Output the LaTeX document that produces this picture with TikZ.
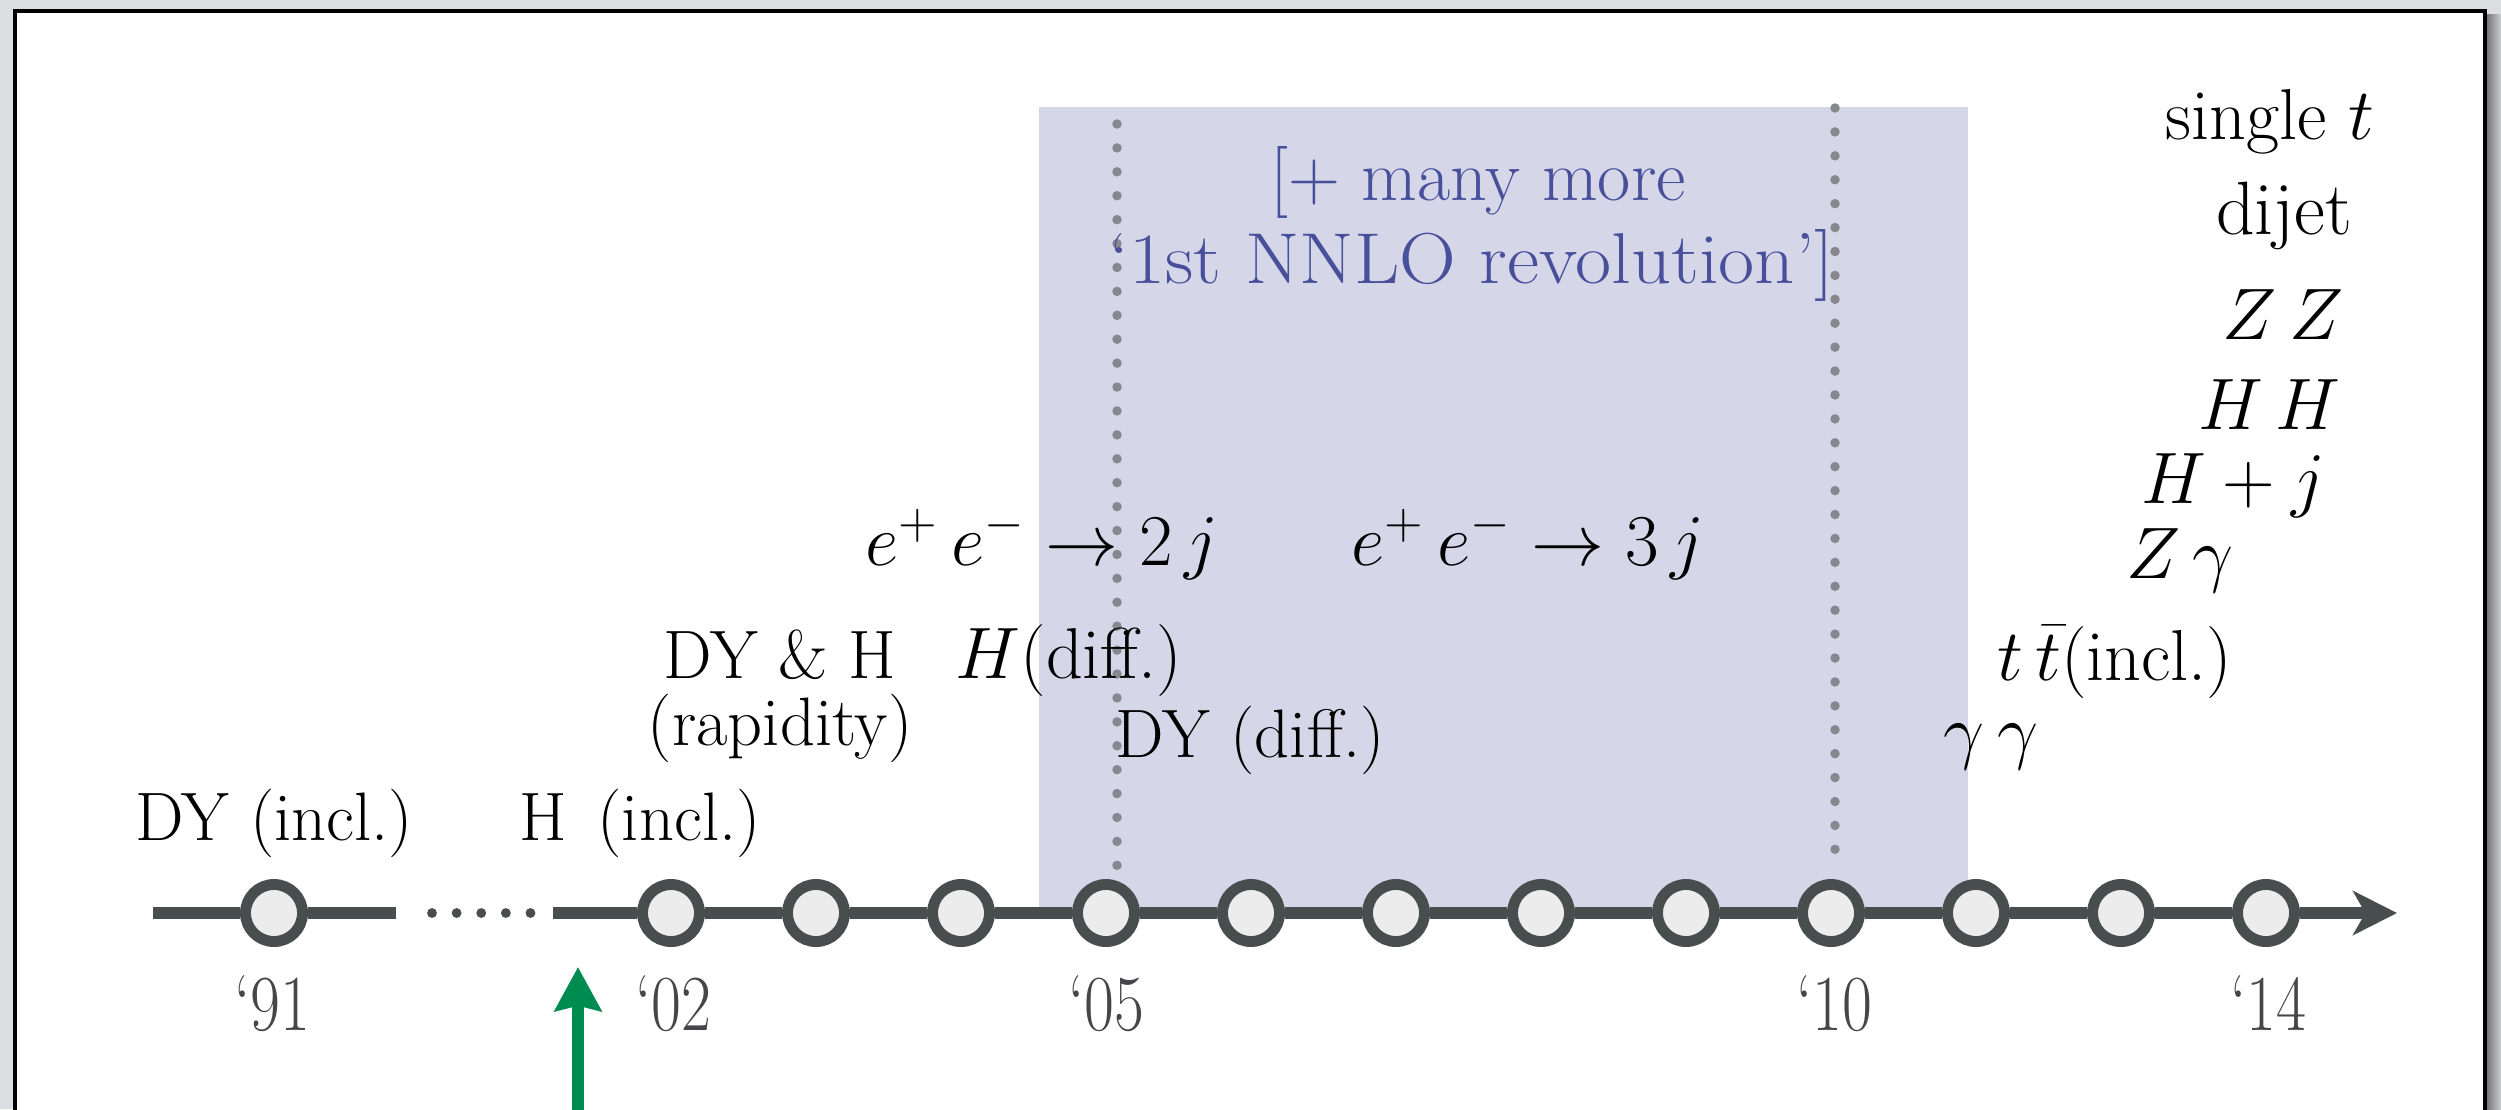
\documentclass[tikz,border=0pt]{standalone}
\usepackage{amsmath}
\usepackage{graphicx}
\usetikzlibrary{arrows.meta}
\definecolor{bgout}{RGB}{220,222,225}
\definecolor{tlgray}{RGB}{72,78,78}
\definecolor{circfill}{RGB}{236,236,236}
\definecolor{bandblue}{RGB}{213,214,232}
\definecolor{dotgray}{RGB}{135,135,142}
\definecolor{bluetext}{RGB}{72,80,155}
\definecolor{yeargray}{RGB}{70,70,74}
\definecolor{arrowgreen}{RGB}{0,140,80}
\begin{document}
\begin{tikzpicture}[x=0.01cm,y=-0.01cm,
  tl/.style={line width=3.55pt, draw=tlgray},
  tldots/.style={line width=2.8pt, draw=tlgray, line cap=round, dash pattern=on 0pt off 7pt},
  yr/.style={circle, draw=tlgray, fill=circfill, line width=3.1pt, minimum size=0.57cm, inner sep=0pt},
  dotv/.style={draw=dotgray, line width=2.7pt, line cap=round, dash pattern=on 0pt off 6.8pt},
  lab/.style={anchor=base, inner sep=0pt, font=\fontsize{19.5}{23}\selectfont},
  labm/.style={anchor=base, inner sep=0pt, font=\fontsize{21}{25}\selectfont},
  labr/.style={anchor=base, inner sep=0pt, font=\fontsize{21.5}{25}\selectfont},
  bluelab/.style={anchor=base, inner sep=0pt, text=bluetext, font=\fontsize{20.5}{24}\selectfont},
  yearlab/.style={anchor=base, inner sep=0pt, text=yeargray, font=\fontsize{18.5}{22}\selectfont},
  garrow/.style={draw=arrowgreen, line width=3.4pt, -{Stealth[length=12.5pt, width=13.2pt, inset=1.5pt]}}
]
\useasboundingbox (0,0) rectangle (2501,1109);
% screenshot surround
\fill[bgout] (0,0) rectangle (2501,1109);
\shade[left color={rgb,255:red,110;green,112;blue,116}, right color={rgb,255:red,205;green,207;blue,210}] (2486,14) rectangle (2501,1109);
\filldraw[fill=white, draw=black, line width=0.9pt] (15,1125) -- (15,11) -- (2485,11) -- (2485,1125);
% shaded band
\fill[bandblue] (1039,107) rectangle (1968,913);
% dotted verticals
\coordinate (dva) at (1117,124);
\coordinate (dvb) at (1117,866);
\coordinate (dvc) at (1835,108);
\coordinate (dvd) at (1835,870);
\draw[dotv] (dva) -- (dvb);
\draw[dotv] (dvc) -- (dvd);
% timeline circles
\node[yr] (n91) at (274,913) {};
\foreach \i in {0,...,11} {
  \node[yr] (n\i) at ({671+145*\i},913) {};
}
% timeline lines
\coordinate (la) at (153,913);
\coordinate (lb) at (396,913);
\coordinate (lc) at (553,913);
\coordinate (ld) at (2397,913);
\coordinate (da) at (432,913);
\coordinate (db) at (531,913);
\draw[tl] (la) -- (n91) -- (lb);
\draw[tldots] (da) -- (db);
\draw[tl] (lc) -- (n0) -- (n1) -- (n2) -- (n3) -- (n4) -- (n5) -- (n6) -- (n7) -- (n8) -- (n9) -- (n10) -- (n11);
\draw[tl, -{Stealth[length=12.5pt, width=12.5pt, inset=3.5pt]}] (n11) -- (ld);
% year labels
\node[yearlab] (y91) at (272,1030) {\scalebox{1}[1.22]{`91}};
\node[yearlab] (y02) at (673,1030) {\scalebox{1}[1.22]{`02}};
\node[yearlab] (y05) at (1106,1030) {\scalebox{1}[1.22]{`05}};
\node[yearlab] (y10) at (1834,1030) {\scalebox{1}[1.22]{`10}};
\node[yearlab] (y14) at (2268,1030) {\scalebox{1}[1.22]{`14}};
% blue text
\node[bluelab] (bl1) at (1478,200) {[+ many more};
\node[bluelab] (bl2) at (1472,283) {\scalebox{1.09}[1]{`1st NNLO revolution']}};
% labels
\node[lab] (dyincl) at (274,840) {DY (incl.)};
\node[lab] (hincl) at (640,840) {H\hspace{0.45em}(incl.)};
\node[lab] (dyh) at (780,678) {DY \& H};
\node[lab] (rap) at (780,745) {(rapidity)};
\node[lab, font=\fontsize{20.5}{24}\selectfont] (hdiff) at (1069,678) {$H$(diff.)};
\node[lab] (dydiff) at (1250,757) {DY (diff.)};
\node[labm] (ee2) at (1042,565) {$e^+\, e^- \to 2\, j$};
\node[labm] (ee3) at (1528,565) {$e^+\, e^- \to 3\, j$};
\node[lab, font=\fontsize{20.5}{24}\selectfont] (tt) at (2115,680) {$t\,\bar{t}$(incl.)};
\node[lab, font=\fontsize{20.5}{24}\selectfont] (gg) at (1991,755) {$\gamma\,\gamma$};
\node[lab, font=\fontsize{20.5}{24}\selectfont] (st) at (2270,139) {single $t$};
\node[labr] (dj) at (2284,234) {dijet};
\node[labr] (zz) at (2283,339) {$Z\,Z$};
\node[labr] (hh) at (2269,429) {$H\,H$};
\node[labr] (hj) at (2233,503) {$H + j$};
\node[labm] (zg) at (2180,578) {$Z\,\gamma$};
% green arrow
\coordinate (ga) at (578,1115);
\coordinate (gb) at (578,967);
\draw[garrow] (ga) -- (gb);
\end{tikzpicture}
\end{document}
